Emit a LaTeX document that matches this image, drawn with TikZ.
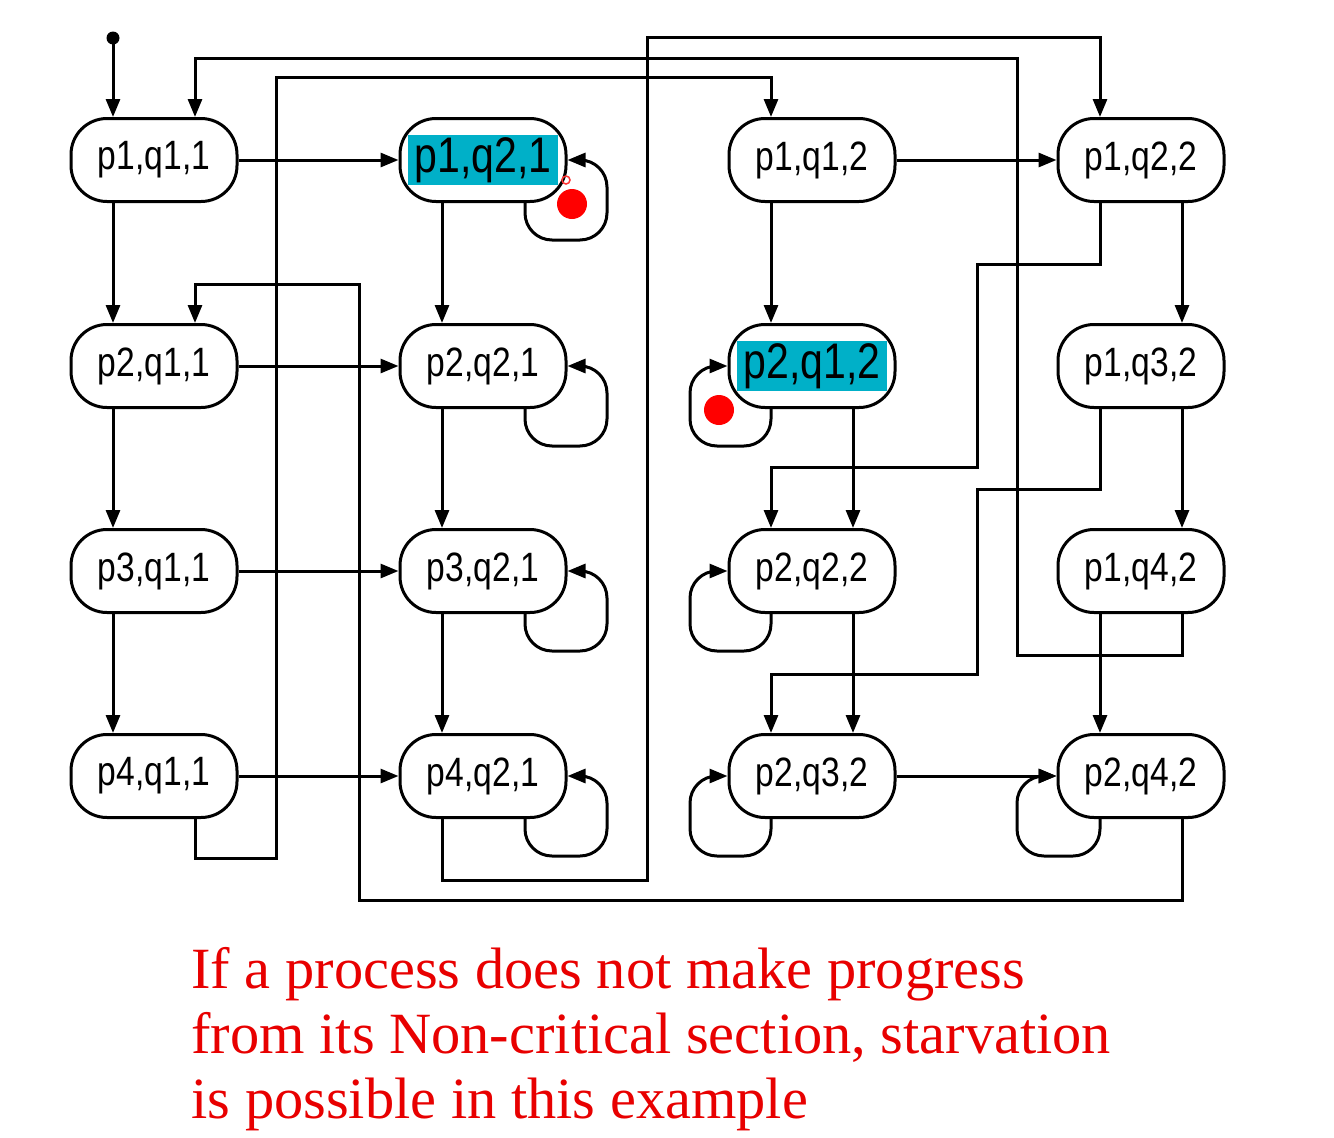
\documentclass[tikz,border=0pt]{standalone}
\usepackage{fontspec}
\setmainfont{Liberation Serif}
\newfontfamily\nodefont[FakeStretch=0.82]{Liberation Sans}
\usetikzlibrary{arrows.meta,calc}
\definecolor{hlc}{RGB}{0,176,200}
\definecolor{capred}{RGB}{232,0,0}
\newcommand{\hlbox}[1]{{\setlength{\fboxsep}{2pt}\colorbox{hlc}{\hspace{5pt}\fontsize{50}{56}\selectfont #1\hspace{5pt}}}}
\begin{document}
\begin{tikzpicture}[x=1pt,y=-1pt,line width=3pt,
  st/.style={draw,rounded corners=36pt,minimum width=166pt,minimum height=83pt,inner sep=0pt,fill=white,font=\nodefont\fontsize{41}{48}\selectfont},
  arr/.style={-{Triangle[length=18pt,width=14pt]}},
  selfloop/.style={arr,rounded corners=27pt},
  captext/.style={anchor=base west,inner sep=0pt,text=capred,font=\fontsize{58.4}{65}\selectfont}]
\useasboundingbox[fill=white] (0,0) rectangle (1334,1138);
% states
\node[st] (n11) at (154,160) {p1,q1,1};
\node[st] (n12) at (483,160) {\hlbox{p1,q2,1}};
\node[st] (n13) at (812,160) {p1,q1,2};
\node[st] (n14) at (1141,160) {p1,q2,2};
\node[st] (n21) at (154,366) {p2,q1,1};
\node[st] (n22) at (483,366) {p2,q2,1};
\node[st] (n23) at (812,366) {\hlbox{p2,q1,2}};
\node[st] (n24) at (1141,366) {p1,q3,2};
\node[st] (n31) at (154,571) {p3,q1,1};
\node[st] (n32) at (483,571) {p3,q2,1};
\node[st] (n33) at (812,571) {p2,q2,2};
\node[st] (n34) at (1141,571) {p1,q4,2};
\node[st] (n41) at (154,776) {p4,q1,1};
\node[st] (n42) at (483,776) {p4,q2,1};
\node[st] (n43) at (812,776) {p2,q3,2};
\node[st] (n44) at (1141,776) {p2,q4,2};
% initial
\coordinate (init) at (113,38);
\fill (init) circle (6.5);
\draw[arr] (init) -- ($(n11.north)+(-41,0)$);
% vertical in columns
\foreach \a/\b in {n11/n21,n21/n31,n31/n41,n12/n22,n22/n32,n32/n42,n13/n23,n34/n44}
  \draw[arr] ($(\a.south)+(-41,0)$) -- ($(\b.north)+(-41,0)$);
\foreach \a/\b in {n23/n33,n33/n43,n14/n24,n24/n34}
  \draw[arr] ($(\a.south)+(41,0)$) -- ($(\b.north)+(41,0)$);
% horizontal
\foreach \a/\b in {n11/n12,n21/n22,n31/n32,n41/n42,n13/n14,n43/n44}
  \draw[arr] (\a.east) -- (\b.west);
% long connectors
\draw[arr] ($(n41.south)+(41,0)$) |- (276,858) |- (771,77) -- ($(n13.north)+(-41,0)$);
\draw[arr] ($(n42.south)+(-41,0)$) |- (647,880) |- (1100,37) -- ($(n14.north)+(-41,0)$);
\draw[arr] ($(n34.south)+(41,0)$) |- (1017,655) |- (195,58) -- ($(n11.north)+(41,0)$);
\draw[arr] ($(n44.south)+(41,0)$) |- (359,900) |- (195,284) -- ($(n21.north)+(41,0)$);
\draw[arr] ($(n14.south)+(-41,0)$) |- (977,264) |- (771,467) -- ($(n33.north)+(-41,0)$);
\draw[arr] ($(n24.south)+(-41,0)$) |- (977,489) |- (771,674) -- ($(n43.north)+(-41,0)$);
% self loops
\foreach \n in {n12,n22,n32,n42}
  \draw[selfloop] ($(\n.south)+(42,0)$) -- ++(0,37) -- ++(82,0) |- (\n.east);
\foreach \n in {n23,n33,n43}
  \draw[selfloop] ($(\n.south)+(-41,0)$) -- ++(0,37) -- ++(-81,0) |- (\n.west);
\draw[selfloop] ($(n44.south)+(-41,0)$) -- ++(0,37) -- ++(-83,0) |- (n44.west);
% red marks
\fill[red] (572,204) circle (15);
\fill[red] (719,410) circle (15);
\draw[red!80,line width=1.5pt] (566,180) circle (4);
% caption
\node[captext] (c1) at (190,988) {If a process does not make progress};
\node[captext] (c2) at (190,1053) {from its Non-critical section, starvation};
\node[captext] (c3) at (190,1118) {is possible in this example};
\end{tikzpicture}
\end{document}
